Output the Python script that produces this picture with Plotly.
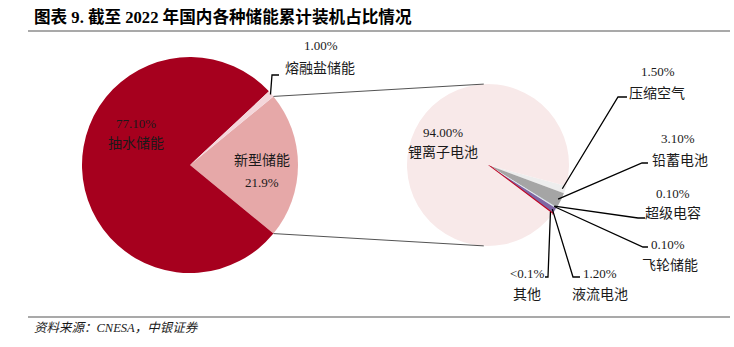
import math
import plotly.graph_objects as go

# ---- data -------------------------------------------------------------
main_labels = ["新型储能", "抽水储能", "熔融盐储能"]
main_values = [21.9, 77.1, 1.0]
main_text = ["21.9%", "77.10%", "1.00%"]

sub_labels = ["压缩空气", "铅蓄电池", "超级电容", "飞轮储能", "液流电池", "其他", "锂离子电池"]
sub_values = [1.5, 3.1, 0.1, 0.1, 1.2, 0.09, 94.0]
sub_text = ["1.50%", "3.10%", "0.10%", "0.10%", "1.20%", "<0.1%", "94.00%"]

title_text = "<b>图表 9. 截至 2022 年国内各种储能累计装机占比情况</b>"
source_text = "<i>资料来源：CNESA，中银证券</i>"

# ---- page geometry (pixels) -------------------------------------------
W, H = 734, 347
BIG_C, BIG_R = (190, 165), 108
SUB_C, SUB_R = (488, 165), 81

main_colors = ["#E6A8A8", "#A6001E", "#F4D6DA"]
sub_colors = ["#EDEDED", "#A5A5A5", "#9DC3C1", "#C9D9E9", "#7D67A3", "#C00020", "#F8E9E9"]

FONT = "Liberation Serif, Noto Sans CJK SC, serif"
INK = "#1a1a1a"


def px(x):
    return x / W


def py(y):
    return 1 - y / H


def domain(c, r):
    return dict(x=[px(c[0] - r), px(c[0] + r)], y=[py(c[1] + r), py(c[1] - r)])


def slice_angles(values, rotation):
    """Math angles (deg) of each slice's start/end for a clockwise pie."""
    total = sum(values)
    out, acc = [], 0.0
    for v in values:
        a0 = 90 - rotation - acc / total * 360
        acc += v
        a1 = 90 - rotation - acc / total * 360
        out.append((a0, a1))
    return out


def on_circle(c, r, ang):
    return (c[0] + r * math.cos(math.radians(ang)), c[1] - r * math.sin(math.radians(ang)))


# first slice (新型储能) centred on 3 o'clock
main_rot = 90 - main_values[0] / sum(main_values) * 180
# the small group of the second pie sits slightly below 3 o'clock
small_share = sum(sub_values[:-1]) / sum(sub_values) * 360
sub_rot = 90 + 26 - small_share / 2

fig = go.Figure()
fig.add_trace(go.Pie(
    labels=main_labels, values=main_values, sort=False, direction="clockwise",
    rotation=main_rot, textinfo="none", hoverinfo="label+percent",
    marker=dict(colors=main_colors, line=dict(width=0)),
    domain=domain(BIG_C, BIG_R), showlegend=False,
))
fig.add_trace(go.Pie(
    labels=sub_labels, values=sub_values, sort=False, direction="clockwise",
    rotation=sub_rot, textinfo="none", hoverinfo="label+percent",
    marker=dict(colors=sub_colors,
                line=dict(color=["#ffffff"] * 5 + ["#C00020", "#ffffff"],
                          width=[0, 0, 0, 0, 0.6, 1.6, 0])),
    domain=domain(SUB_C, SUB_R), showlegend=False,
))

shapes = []
annotations = []


def seg(points, color="#000000", width=1.3):
    path = "M " + " L ".join(f"{px(x):.5f},{py(y):.5f}" for x, y in points)
    shapes.append(dict(type="path", path=path, xref="paper", yref="paper",
                       line=dict(color=color, width=width)))


def label(x, y, text, size=13):
    annotations.append(dict(x=px(x), y=py(y), xref="paper", yref="paper", text=text,
                            showarrow=False, xanchor="center", yanchor="middle",
                            font=dict(family=FONT, size=size, color=INK)))


def name(x, y, text):
    label(x, y, text, size=14)


# header and footer rules
seg([(28, 31), (730, 31)], color="#8c8c8c", width=1.6)
seg([(28, 317), (730, 317)], color="#8c8c8c", width=1.6)
annotations.append(dict(x=px(32), y=py(17), xref="paper", yref="paper", text=title_text,
                        showarrow=False, xanchor="left", yanchor="middle",
                        font=dict(family="Liberation Serif, Noto Sans CJK SC", size=16.6, color="#000")))
annotations.append(dict(x=px(32), y=py(328), xref="paper", yref="paper", text=source_text,
                        showarrow=False, xanchor="left", yanchor="middle",
                        font=dict(family="Liberation Serif, Noto Sans CJK SC", size=12.5, color=INK)))

# connectors from the 新型储能 wedge to the breakdown pie
m_ang = slice_angles(main_values, main_rot)
top_big = on_circle(BIG_C, BIG_R, m_ang[0][0])
bot_big = on_circle(BIG_C, BIG_R, m_ang[0][1])
seg([top_big, on_circle(SUB_C, SUB_R, 93)], color="#404040", width=0.9)
seg([bot_big, on_circle(SUB_C, SUB_R, -93)], color="#404040", width=0.9)

# in-slice labels of the main pie
label(136, 123, main_text[1]); name(136, 143, main_labels[1])
name(262, 160, main_labels[0]); label(262, 182, main_text[0])

# 熔融盐储能 callout
mid = sum(m_ang[2]) / 2
seg([on_circle(BIG_C, BIG_R - 1, mid), (272, 75), (279, 75)])
label(321, 45, main_text[2]); name(320, 68, main_labels[2])

# breakdown pie labels
label(443, 132, sub_text[6]); name(443, 152, sub_labels[6])

s_ang = slice_angles(sub_values, sub_rot)
callouts = [
    # (elbow, end, value-label pos, name-label pos)
    ((618, 97), (627, 97), (658, 72), (657, 93)),
    ((642, 163), (648, 163), (678, 139), (680, 160)),
    ((638, 218), (645, 218), (673, 193), (673, 213)),
    ((643, 247), (648, 247), (668, 245), (670, 265)),
    ((573, 277), (580, 277), (600, 273), (600, 294)),
    ((548, 277), (545, 277), (527, 273), (527, 294)),
]
for i, (elbow, end, vpos, npos) in enumerate(callouts):
    a = sum(s_ang[i]) / 2
    seg([on_circle(SUB_C, SUB_R - 3, a), elbow, end])
    label(*vpos, sub_text[i])
    name(*npos, sub_labels[i])

fig.update_layout(
    width=W, height=H, autosize=False,
    margin=dict(l=0, r=0, t=0, b=0, pad=0),
    paper_bgcolor="#ffffff", plot_bgcolor="#ffffff",
    shapes=shapes, annotations=annotations,
)

fig.write_html("out.html")
